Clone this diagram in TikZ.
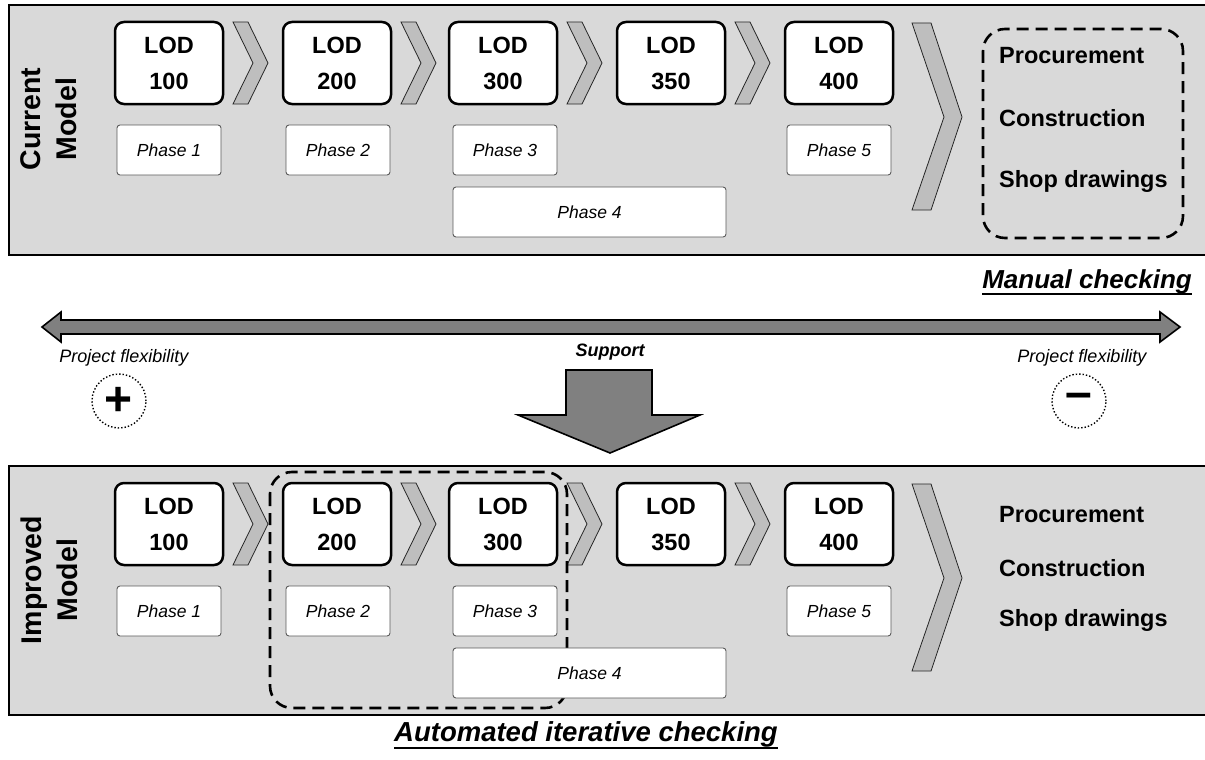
\documentclass[tikz,border=0pt]{standalone}
\usepackage{fontspec}
\setmainfont{Liberation Sans}
\definecolor{panelgray}{RGB}{217,217,217}
\definecolor{chevgray}{RGB}{190,190,190}
\definecolor{arrowgray}{RGB}{128,128,128}
\definecolor{phaseline}{RGB}{90,90,90}
\begin{document}
\begin{tikzpicture}[x=1pt,y=-1pt,
  panel/.style={draw=black,line width=2pt,fill=panelgray},
  lod/.style={draw=black,line width=2.5pt,fill=white,rounded corners=9pt,
    minimum width=108pt,minimum height=82pt,inner sep=0pt,align=center,
    font=\bfseries\fontsize{23.5}{36}\selectfont},
  phase/.style={draw=phaseline,line width=0.9pt,fill=white,rounded corners=3pt,
    minimum width=104pt,minimum height=50pt,inner sep=0pt,
    font=\itshape\fontsize{17.5}{20}\selectfont},
  longphase/.style={phase,minimum width=273pt},
  chev/.style={draw=black!85,line width=0.8pt,fill=chevgray},
  bigarrow/.style={draw=black,line width=1.6pt,fill=arrowgray,line join=miter},
  groupbox/.style={draw=black,line width=2.6pt,rounded corners=22pt,dash pattern=on 12pt off 7pt},
  sidelabel/.style={rotate=90,align=center,inner sep=0pt,font=\bfseries\fontsize{28.5}{36}\selectfont},
  outcome/.style={anchor=west,inner sep=0pt,font=\bfseries\fontsize{23.5}{28}\selectfont},
  heading/.style={inner sep=0pt,font=\bfseries\itshape\fontsize{26}{30}\selectfont},
  flex/.style={inner sep=0pt,font=\itshape\fontsize{18}{22}\selectfont},
  sign/.style={draw=black,line width=1.4pt,dotted,circle,minimum size=54pt,inner sep=0pt,
    font=\bfseries\fontsize{48}{48}\selectfont},
  smallchev/.pic={\draw[chev] (0,0) -- (15,0) -- (35,41) -- (15,82) -- (0,82) -- (20,41) -- cycle;},
  bigchev/.pic={\draw[chev] (0,0) -- (19,0) -- (50,94) -- (19,187) -- (0,187) -- (32,94) -- cycle;}
]
\useasboundingbox (0,0) rectangle (1205,760);

% ---------- current model ----------
\draw[panel] (9,5) rectangle (1215,255);
\node[sidelabel] (curlab) at (49,119) {Current\\Model};
\foreach \cx in {233,401,567,735} \pic at (\cx,22) {smallchev};
\pic at (912,23) {bigchev};
\node[lod] (c100) at (169,63) {LOD\\100};
\node[lod] (c200) at (337,63) {LOD\\200};
\node[lod] (c300) at (503,63) {LOD\\300};
\node[lod] (c350) at (671,63) {LOD\\350};
\node[lod] (c400) at (839,63) {LOD\\400};
\node[phase] (cp1) at (169,150) {Phase 1};
\node[phase] (cp2) at (338,150) {Phase 2};
\node[phase] (cp3) at (505,150) {Phase 3};
\node[phase] (cp5) at (839,150) {Phase 5};
\node[longphase] (cp4) at (589.5,212) {Phase 4};
\draw[groupbox] (983,29) rectangle (1183,238);
\node[outcome] (cproc) at (999,56) {Procurement};
\node[outcome] (ccons) at (999,118.5) {Construction};
\node[outcome] (cshop) at (999,181.5) {Shop drawings};

% ---------- middle: flexibility scale and support ----------
\node[heading,anchor=base east] (manual) at (1192,288) {Manual checking};
\draw[line width=2pt] ([yshift=-6pt]manual.base west) -- ([yshift=-6pt]manual.base east);
\draw[bigarrow] (42,327) -- (61,312) -- (61,320) -- (1160,320) -- (1160,312) -- (1180,327)
  -- (1160,342) -- (1160,334) -- (61,334) -- (61,342) -- cycle;
\node[flex] (flexl) at (124,358) {Project flexibility};
\node[flex] (flexr) at (1082,358) {Project flexibility};
\node[sign] (plus) at (119,401) {+};
\node[sign] (minus) at (1079,401) {–};
\node[inner sep=0pt,font=\bfseries\itshape\fontsize{18}{22}\selectfont] (support) at (610,352) {Support};
\draw[bigarrow] (566,370) -- (652,370) -- (652,415) -- (700,415) -- (610,453) -- (518,415)
  -- (566,415) -- cycle;

% ---------- improved model ----------
\draw[panel] (9,466) rectangle (1215,715);
\node[sidelabel] (implab) at (49,580) {Improved\\Model};
\foreach \cx in {233,401,567,735} \pic at (\cx,483) {smallchev};
\pic at (912,484) {bigchev};
\node[lod] (i100) at (169,524) {LOD\\100};
\node[lod] (i200) at (337,524) {LOD\\200};
\node[lod] (i300) at (503,524) {LOD\\300};
\node[lod] (i350) at (671,524) {LOD\\350};
\node[lod] (i400) at (839,524) {LOD\\400};
\node[phase] (ip1) at (169,611) {Phase 1};
\node[phase] (ip2) at (338,611) {Phase 2};
\node[phase] (ip3) at (505,611) {Phase 3};
\node[phase] (ip5) at (839,611) {Phase 5};
\draw[groupbox] (270,472) rectangle (567,708);
\node[longphase] (ip4) at (589.5,673) {Phase 4};
\node[outcome] (iproc) at (999,515) {Procurement};
\node[outcome] (icons) at (999,568) {Construction};
\node[outcome] (ishop) at (999,620.5) {Shop drawings};

\node[heading,anchor=base,font=\bfseries\itshape\fontsize{27.5}{32}\selectfont] (auto) at (586,741) {Automated iterative checking};
\draw[line width=2pt] ([yshift=-7pt]auto.base west) -- ([yshift=-7pt]auto.base east);
\end{tikzpicture}
\end{document}
